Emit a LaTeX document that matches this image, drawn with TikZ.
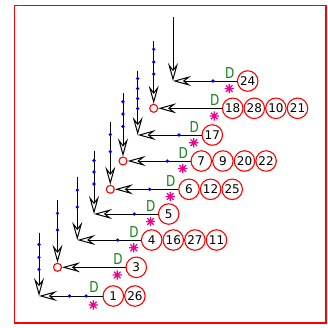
\documentclass[tikz,border=0pt]{standalone}
\usepackage{fontspec}
\usepackage{graphicx}
\newfontfamily\numfont{DejaVu Sans}
\usetikzlibrary{arrows.meta}
\definecolor{dgreen}{RGB}{20,130,20}
\tikzset{
  num/.style={circle, draw=red, line width=1.1pt, minimum size=20.5pt, inner sep=0pt, font=\fontsize{12}{12}\numfont},
  vtx/.style={circle, draw=red, line width=1.1pt, minimum size=8pt, inner sep=0pt},
  dl/.style={text=dgreen, inner sep=0pt, font=\fontsize{15}{15}\numfont},
  bdot/.style={circle, fill=blue, minimum size=3.6pt, inner sep=0pt},
  arr/.style={-{Stealth[open,length=18pt,width=10pt,inset=6.5pt]}, line width=1pt, black},
  ast/.pic={\draw[magenta, line width=1.2pt] (-4.6,0)--(4.6,0) (0,-4.6)--(0,4.6) (-3.3,-3.3)--(3.3,3.3) (-3.3,3.3)--(3.3,-3.3);}
}
\newcommand\Dlab{\scalebox{0.8}[1]{D}}
\begin{document}
\begin{tikzpicture}[x=1pt,y=1pt]
\useasboundingbox (0,0) rectangle (328,-327);
\draw[red, line width=1.1pt] (14.5,-5.8) rectangle (326,-323);

% Row 1 : 24
\coordinate (t1) at (173,-17);
\coordinate (v1) at (173,-81);
\node[num] (n1a) at (247.7,-81) {24};
\draw[arr] (t1) -- (v1);
\draw[arr] (n1a) -- (v1);
\node[bdot] at (213,-81) {};
\node[dl] at (229.7,-73) {\Dlab};
\pic at (229.2,-88.5) {ast};

% Row 2 : 18 28 10 21
\coordinate (t2) at (153.7,-40.7);
\node[vtx] (v2) at (153.7,-108.3) {};
\node[num] (n2a) at (232.7,-108.3) {18};
\node[num] (n2b) at (254.3,-108.3) {28};
\node[num] (n2c) at (275.9,-108.3) {10};
\node[num] (n2d) at (297.5,-108.3) {21};
\draw[arr] (t2) -- (v2);
\draw[arr] (n2a) -- (v2);
\foreach \yy in {49.3,62,74} \node[bdot] at (153.7,-\yy) {};
\node[dl] at (214.7,-100.3) {\Dlab};
\pic at (214.2,-116) {ast};

% Row 3 : 17
\coordinate (t3) at (137.7,-71);
\coordinate (v3) at (137.7,-135);
\node[num] (n3a) at (212.3,-135) {17};
\draw[arr] (t3) -- (v3);
\draw[arr] (n3a) -- (v3);
\foreach \yy in {78.5,88.5,98.5,108.5} \node[bdot] at (137.7,-\yy) {};
\node[bdot] at (179,-135) {};
\node[dl] at (194.3,-127) {\Dlab};
\pic at (193.8,-142.7) {ast};

% Row 4 : 7 9 20 22
\coordinate (t4) at (123,-93);
\node[vtx] (v4) at (123,-161) {};
\node[num] (n4a) at (201.3,-161) {7};
\node[num] (n4b) at (222.9,-161) {9};
\node[num] (n4c) at (244.5,-161) {20};
\node[num] (n4d) at (266.1,-161) {22};
\draw[arr] (t4) -- (v4);
\draw[arr] (n4a) -- (v4);
\foreach \yy in {101.7,114,126.5} \node[bdot] at (123,-\yy) {};
\node[bdot] at (167.3,-161) {};
\node[dl] at (183.3,-153.3) {\Dlab};
\pic at (182.8,-168.5) {ast};

% Row 5 : 6 12 25
\coordinate (t5) at (110.3,-121.7);
\node[vtx] (v5) at (110.3,-189.3) {};
\node[num] (n5a) at (189,-189.3) {6};
\node[num] (n5b) at (210.6,-189.3) {12};
\node[num] (n5c) at (232.2,-189.3) {25};
\draw[arr] (t5) -- (v5);
\draw[arr] (n5a) -- (v5);
\foreach \yy in {134.5,151.7} \node[bdot] at (110.3,-\yy) {};
\node[bdot] at (149.7,-189.3) {};
\node[dl] at (170.7,-181.5) {\Dlab};
\pic at (170.2,-196.5) {ast};

% Row 6 : 5
\coordinate (t6) at (94,-150.7);
\coordinate (v6) at (94,-214);
\node[num] (n6a) at (168.7,-214) {5};
\draw[arr] (t6) -- (v6);
\draw[arr] (n6a) -- (v6);
\foreach \yy in {160.5,172,184} \node[bdot] at (94,-\yy) {};
\node[bdot] at (134.3,-214) {};
\node[dl] at (150.7,-206.5) {\Dlab};
\pic at (150.5,-221.5) {ast};

% Row 7 : 4 16 27 11
\coordinate (t7) at (77.3,-176.7);
\coordinate (v7) at (77.3,-240);
\node[num] (n7a) at (151.7,-240) {4};
\node[num] (n7b) at (173.3,-240) {16};
\node[num] (n7c) at (194.9,-240) {27};
\node[num] (n7d) at (216.5,-240) {11};
\draw[arr] (t7) -- (v7);
\draw[arr] (n7a) -- (v7);
\foreach \yy in {190,207} \node[bdot] at (77.3,-\yy) {};
\node[bdot] at (117.7,-240) {};
\node[dl] at (134,-232.3) {\Dlab};
\pic at (133.7,-247.7) {ast};

% Row 8 : 3
\coordinate (t8) at (57.5,-200);
\node[vtx] (v8) at (57.5,-267.3) {};
\node[num] (n8a) at (136.3,-267.3) {3};
\draw[arr] (t8) -- (v8);
\draw[arr] (n8a) -- (v8);
\foreach \yy in {213.3,230} \node[bdot] at (57.5,-\yy) {};
\node[dl] at (117.9,-259.3) {\Dlab};
\pic at (117.3,-275) {ast};

% Row 9 : 1 26
\coordinate (t9) at (39,-232.5);
\coordinate (v9) at (39,-296);
\node[num] (n9a) at (113.3,-296) {1};
\node[num] (n9b) at (134.9,-296) {26};
\draw[arr] (t9) -- (v9);
\draw[arr] (n9a) -- (v9);
\foreach \yy in {244.5,257.3,269.3} \node[bdot] at (39,-\yy) {};
\foreach \xx in {69.5,86.2} \node[bdot] at (\xx,-296) {};
\node[dl] at (94,-287.5) {\Dlab};
\pic at (93.3,-305) {ast};
\end{tikzpicture}
\end{document}
